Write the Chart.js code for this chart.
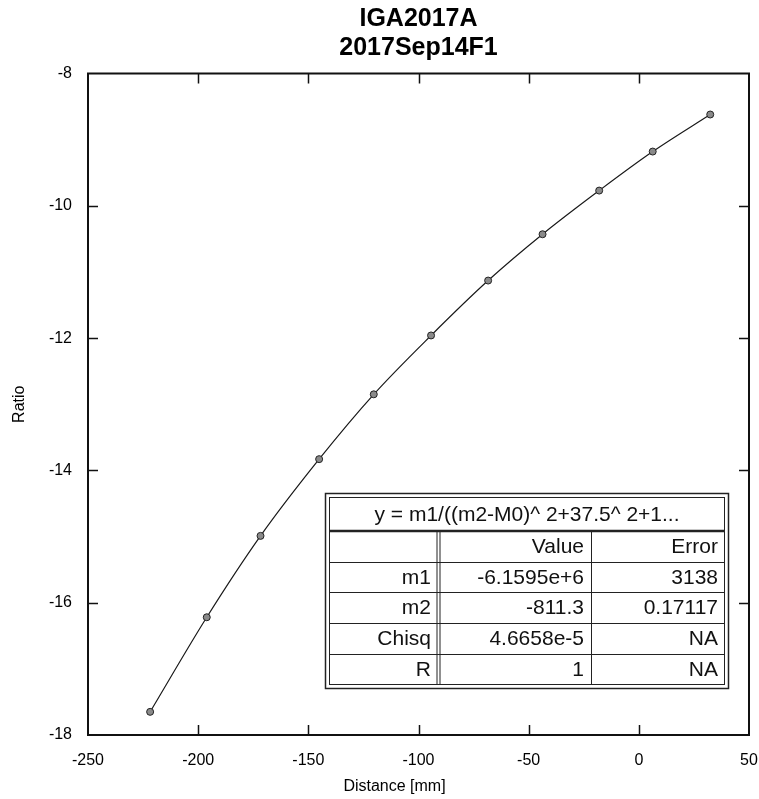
<!DOCTYPE html>
<html>
<head>
<meta charset="utf-8">
<script src="https://cdn.jsdelivr.net/npm/chart.js@4"></script>
<style>
  html, body { margin: 0; padding: 0; background: #fff; }
</style>
</head>
<body>
<canvas id="fitChart" width="759" height="799"></canvas>
<script>
// Measured points (distance in mm, ratio)
const distance = [-221.8, -196.1, -171.7, -145.1, -120.3, -94.3, -68.4, -43.7, -18.0, 6.3, 32.4];
const ratio = [-17.65, -16.22, -14.99, -13.83, -12.85, -11.96, -11.13, -10.43, -9.77, -9.18, -8.62];

const xTicks = [-250, -200, -150, -100, -50, 0, 50];
const yTicks = [-18, -16, -14, -12, -10, -8];

// Fit result table
const fitHeader = 'y = m1/((m2-M0)^ 2+37.5^ 2+1...';
const fitColumns = ['', 'Value', 'Error'];
const fitNames = ['m1', 'm2', 'Chisq', 'R'];
const fitValues = ['-6.1595e+6', '-811.3', '4.6658e-5', '1'];
const fitErrors = ['3138', '0.17117', 'NA', 'NA'];

const FONT = '"Liberation Sans", Arial, sans-serif';
const xTitle = 'Distance [mm]';

// frame + inward ticks on all four sides, x axis title
const framePlugin = {
    id: 'frame',
    afterDraw(chart) {
        const ctx = chart.ctx;
        const a = chart.chartArea;
        const xs = chart.scales.x, ys = chart.scales.y;
        const len = 10;
        ctx.save();
        ctx.strokeStyle = '#111';
        ctx.lineWidth = 1.5;
        xTicks.slice(1, -1).forEach(v => {
            const px = Math.round(xs.getPixelForValue(v)) + 0.5;
            ctx.beginPath();
            ctx.moveTo(px, a.bottom); ctx.lineTo(px, a.bottom - len);
            ctx.moveTo(px, a.top); ctx.lineTo(px, a.top + len);
            ctx.stroke();
        });
        yTicks.slice(1, -1).forEach(v => {
            const py = Math.round(ys.getPixelForValue(v)) + 0.5;
            ctx.beginPath();
            ctx.moveTo(a.left, py); ctx.lineTo(a.left + len, py);
            ctx.moveTo(a.right, py); ctx.lineTo(a.right - len, py);
            ctx.stroke();
        });
        ctx.lineWidth = 2;
        ctx.strokeRect(a.left, a.top, a.right - a.left, a.bottom - a.top);

        // axis title sits a bit left of the plot centre in the original
        ctx.fillStyle = '#000';
        ctx.font = '16px ' + FONT;
        ctx.textAlign = 'center';
        ctx.textBaseline = 'middle';
        ctx.fillText(xTitle, (a.left + a.right) / 2 - 24, 787);
        ctx.restore();
    }
};

// the fit parameter box in the lower right
const tablePlugin = {
    id: 'fitTable',
    afterDraw(chart) {
        const ctx = chart.ctx;
        const left = 325, top = 493, right = 729, bottom = 689;
        const inL = left + 4, inT = top + 4, inR = right - 4, inB = bottom - 4;
        const colX = [inL, 438, 591, inR];
        const rowY = [inT, 531, 562, 592, 623, 654, inB];

        ctx.save();
        ctx.fillStyle = '#fff';
        ctx.fillRect(left, top, right - left, bottom - top);
        ctx.strokeStyle = '#222';
        ctx.lineWidth = 1.5;
        ctx.strokeRect(left + 0.5, top + 0.5, right - left - 1, bottom - top - 1);
        ctx.lineWidth = 1;
        ctx.strokeRect(inL + 0.5, inT + 0.5, inR - inL - 1, inB - inT - 1);

        // header separator (heavier)
        ctx.lineWidth = 2.5;
        ctx.beginPath();
        ctx.moveTo(inL, rowY[1]); ctx.lineTo(inR, rowY[1]);
        ctx.stroke();

        // row lines
        ctx.lineWidth = 1;
        ctx.beginPath();
        for (let i = 2; i < rowY.length - 1; i++) {
            ctx.moveTo(inL, rowY[i] + 0.5); ctx.lineTo(inR, rowY[i] + 0.5);
        }
        ctx.moveTo(colX[2] + 0.5, rowY[1]); ctx.lineTo(colX[2] + 0.5, inB);
        ctx.stroke();
        // doubled column line after names
        ctx.beginPath();
        ctx.moveTo(colX[1] - 1, rowY[1]); ctx.lineTo(colX[1] - 1, inB);
        ctx.moveTo(colX[1] + 2, rowY[1]); ctx.lineTo(colX[1] + 2, inB);
        ctx.stroke();

        ctx.fillStyle = '#111';
        ctx.font = '21px ' + FONT;
        ctx.textBaseline = 'middle';
        ctx.textAlign = 'center';
        ctx.fillText(fitHeader, (inL + inR) / 2, (rowY[0] + rowY[1]) / 2 + 1);

        ctx.textAlign = 'right';
        const rows = [fitColumns].concat(fitNames.map((n, i) => [n, fitValues[i], fitErrors[i]]));
        rows.forEach((r, i) => {
            const cy = (rowY[i + 1] + rowY[i + 2]) / 2 + 1;
            r.forEach((txt, j) => {
                ctx.fillText(txt, colX[j + 1] - 7, cy);
            });
        });
        ctx.restore();
    }
};

const ctx = document.getElementById('fitChart').getContext('2d');
const fitChart = new Chart(ctx, {
    type: 'scatter',
    data: {
        datasets: [{
            label: 'Ratio',
            data: distance.map((d, i) => ({ x: d, y: ratio[i] })),
            showLine: true,
            cubicInterpolationMode: 'monotone',
            borderColor: '#1a1a1a',
            borderWidth: 1.2,
            pointRadius: 3.5,
            pointBackgroundColor: '#8a8a8a',
            pointBorderColor: '#222',
            pointBorderWidth: 1
        }]
    },
    options: {
        responsive: false,
        animation: false,
        layout: { padding: { left: 0, right: 10, top: 0, bottom: 0 } },
        plugins: {
            legend: { display: false },
            tooltip: { enabled: false },
            title: {
                display: true,
                fullSize: false,
                text: ['IGA2017A', '2017Sep14F1'],
                color: '#000',
                font: { family: FONT, size: 25, weight: 'bold', lineHeight: 1.15 },
                padding: { top: 5, bottom: 11 }
            }
        },
        scales: {
            x: {
                type: 'linear',
                min: -250,
                max: 50,
                afterBuildTicks: s => { s.ticks = xTicks.map(v => ({ value: v })); },
                afterFit: s => { s.height = 64; s.paddingLeft = 0; s.paddingRight = 0; },
                grid: { display: false, drawTicks: false },
                border: { display: false },
                ticks: { padding: 16, color: '#000', maxRotation: 0, font: { family: FONT, size: 16 } },
                title: { display: false }
            },
            y: {
                type: 'linear',
                min: -18,
                max: -8,
                afterBuildTicks: s => { s.ticks = yTicks.map(v => ({ value: v })); },
                afterFit: s => { s.width = 88; s.paddingTop = 0; s.paddingBottom = 0; },
                grid: { display: false, drawTicks: false },
                border: { display: false },
                ticks: { padding: 16, color: '#000', font: { family: FONT, size: 16 } },
                title: {
                    display: true,
                    text: 'Ratio',
                    color: '#000',
                    font: { family: FONT, size: 16 },
                    padding: { top: 10, bottom: 0 }
                }
            }
        }
    },
    plugins: [framePlugin, tablePlugin]
});
</script>
</body>
</html>
